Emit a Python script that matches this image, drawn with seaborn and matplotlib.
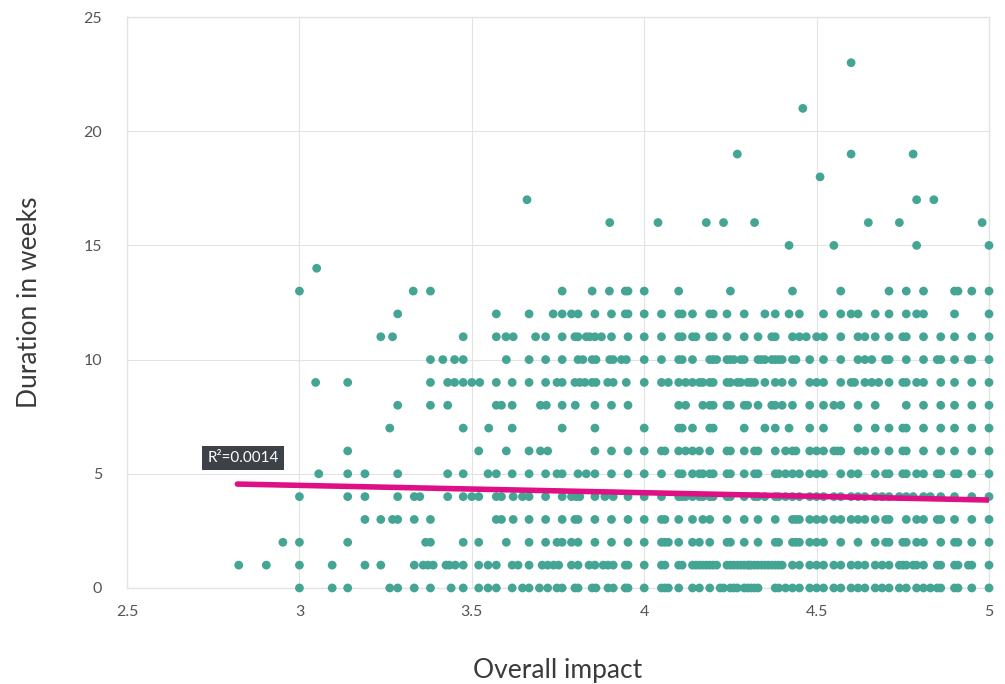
import numpy as np
import pandas as pd
import matplotlib
matplotlib.use("Agg")
import matplotlib.pyplot as plt
import seaborn as sns

# Overall impact values (x) for each duration in weeks (y)
impact_w0 = [3.0, 3.095, 3.14, 3.262, 3.285, 3.333, 3.38, 3.44, 3.475, 3.52,
             3.547, 3.571, 3.617, 3.647, 3.666, 3.696, 3.72, 3.747, 3.762, 3.799, 3.808,
             3.849, 3.86, 3.895, 3.91, 3.945, 3.953,
             4.00, 4.05, 4.06, 4.07, 4.10, 4.14, 4.16, 4.19, 4.22, 4.23, 4.25, 4.26, 4.27,
             4.29, 4.30, 4.31, 4.32, 4.33, 4.38, 4.39, 4.41, 4.43, 4.45, 4.48, 4.50,
             4.52, 4.55, 4.57, 4.60, 4.62, 4.64, 4.67, 4.69, 4.71, 4.74, 4.76, 4.79, 4.81,
             4.83, 4.85, 4.86, 4.90, 4.91, 4.95, 5.0]
impact_w1 = [2.824, 2.904, 3.0, 3.095, 3.19, 3.236, 3.333, 3.359, 3.373, 3.388, 3.425,
             3.435, 3.452, 3.475, 3.52,
             3.547, 3.571, 3.617, 3.634, 3.666, 3.704, 3.72, 3.737, 3.752, 3.789, 3.808,
             3.84, 3.857, 3.881, 3.895, 3.91, 3.945, 3.953,
             4.00, 4.05, 4.06, 4.10, 4.11, 4.14, 4.15, 4.16, 4.17, 4.18, 4.19, 4.20, 4.21,
             4.24, 4.25, 4.26, 4.27, 4.28, 4.29, 4.30, 4.304, 4.31, 4.32, 4.33, 4.34, 4.35,
             4.36, 4.37, 4.38, 4.39, 4.40, 4.43, 4.45, 4.48, 4.50,
             4.52, 4.55, 4.57, 4.60, 4.62, 4.64, 4.67, 4.69, 4.71, 4.74, 4.75, 4.76, 4.78,
             4.79, 4.81, 4.85, 4.86, 4.90, 4.91, 4.94, 4.95, 5.0]
impact_w2 = [2.952, 3.0, 3.14, 3.366, 3.38, 3.475, 3.52,
             3.6, 3.666, 3.714, 3.747, 3.762, 3.789, 3.808, 3.857, 3.905, 3.953,
             4.00, 4.05, 4.06, 4.07, 4.10, 4.14, 4.16, 4.19, 4.24, 4.25, 4.29, 4.33, 4.38,
             4.39, 4.43, 4.44, 4.45, 4.48, 4.50,
             4.52, 4.57, 4.62, 4.67, 4.70, 4.71, 4.75, 4.76, 4.79, 4.81, 4.86, 4.90, 4.91,
             4.95, 5.0]
impact_w3 = [3.19, 3.236, 3.27, 3.285, 3.333, 3.38,
             3.571, 3.586, 3.62, 3.666, 3.714, 3.762, 3.799, 3.808, 3.857, 3.905, 3.953,
             4.00, 4.05, 4.06, 4.10, 4.14, 4.17, 4.19, 4.24, 4.29, 4.33, 4.38, 4.43, 4.44,
             4.45, 4.48, 4.50,
             4.52, 4.55, 4.57, 4.60, 4.62, 4.64, 4.67, 4.70, 4.71, 4.76, 4.79, 4.81, 4.85,
             4.86, 4.90, 4.95, 5.0]
impact_w4 = [3.0, 3.14, 3.19, 3.285, 3.333, 3.349, 3.43, 3.475, 3.5, 3.52,
             3.571, 3.586, 3.62, 3.647, 3.666, 3.714, 3.762, 3.789, 3.803, 3.813, 3.857,
             3.886, 3.91, 3.953,
             4.00, 4.05, 4.10, 4.11, 4.12, 4.14, 4.16, 4.17, 4.19, 4.20, 4.24, 4.25, 4.29,
             4.32, 4.33, 4.35, 4.38, 4.39, 4.41, 4.43, 4.45, 4.48, 4.50,
             4.52, 4.55, 4.57, 4.60, 4.62, 4.64, 4.67, 4.69, 4.71, 4.74, 4.76, 4.78, 4.81,
             4.83, 4.86, 4.90, 4.95, 5.0]
impact_w5 = [3.056, 3.14, 3.19, 3.285, 3.43, 3.475,
             3.547, 3.571, 3.617, 3.666, 3.714, 3.747, 3.762, 3.808, 3.832, 3.857, 3.905,
             3.953,
             4.00, 4.05, 4.10, 4.11, 4.14, 4.16, 4.17, 4.19, 4.20, 4.24, 4.25, 4.29, 4.32,
             4.33, 4.38, 4.39, 4.41, 4.43, 4.45, 4.48, 4.50,
             4.52, 4.57, 4.60, 4.62, 4.67, 4.70, 4.71, 4.75, 4.76, 4.79, 4.81, 4.85, 4.86,
             4.90, 4.91, 4.95, 5.0]
impact_w6 = [3.14, 3.52,
             3.6, 3.666, 3.699, 3.72, 3.857, 3.905, 3.953,
             4.00, 4.05, 4.06, 4.10, 4.12, 4.14, 4.16, 4.19, 4.24, 4.25, 4.29, 4.32, 4.33,
             4.38, 4.41, 4.43, 4.44, 4.48, 4.50,
             4.52, 4.55, 4.56, 4.57, 4.62, 4.64, 4.67, 4.71, 4.75, 4.76, 4.81, 4.86, 4.90,
             4.95, 5.0]
impact_w7 = [3.262, 3.475,
             3.549, 3.617, 3.762, 3.857,
             4.00, 4.10, 4.11, 4.14, 4.19, 4.20, 4.29, 4.35, 4.38, 4.42, 4.48,
             4.52, 4.62, 4.67, 4.71, 4.75, 4.76, 4.81, 4.86, 4.90, 4.95, 5.0]
impact_w8 = [3.285, 3.38, 3.43,
             3.571, 3.586, 3.617, 3.699, 3.716, 3.762, 3.8, 3.857, 3.905, 3.953,
             4.10, 4.12, 4.17, 4.19, 4.20, 4.24, 4.25, 4.29, 4.30, 4.33, 4.37, 4.38, 4.40,
             4.43, 4.48,
             4.52, 4.55, 4.57, 4.62, 4.67, 4.76, 4.81, 4.86, 4.90, 4.95, 5.0]
impact_w9 = [3.047, 3.14, 3.38, 3.43, 3.45, 3.475, 3.5,
             3.523, 3.571, 3.617, 3.666, 3.714, 3.747, 3.762, 3.799, 3.813, 3.828, 3.849,
             3.86, 3.894, 3.91, 3.948,
             4.00, 4.05, 4.07, 4.10, 4.12, 4.14, 4.16, 4.17, 4.19, 4.20, 4.24, 4.25, 4.27,
             4.28, 4.30, 4.31, 4.32, 4.35, 4.38, 4.40, 4.43, 4.48, 4.50,
             4.52, 4.57, 4.60, 4.61, 4.64, 4.66, 4.68, 4.71, 4.75, 4.76, 4.79, 4.81, 4.86,
             4.90, 4.95, 5.0]
impact_w10 = [3.38, 3.416, 3.45, 3.475,
              3.6, 3.666, 3.714, 3.762, 3.808, 3.822, 3.849, 3.86, 3.9, 3.91, 3.934, 3.948,
              4.00, 4.05, 4.10, 4.11, 4.14, 4.19, 4.20, 4.21, 4.24, 4.25, 4.26, 4.28, 4.29,
              4.33, 4.34, 4.35, 4.37, 4.38, 4.39, 4.40, 4.43, 4.44, 4.48,
              4.52, 4.57, 4.62, 4.64, 4.66, 4.70, 4.71, 4.76, 4.81, 4.85, 4.86, 4.90, 4.94,
              4.95, 5.0]
impact_w11 = [3.236, 3.27, 3.475,
              3.571, 3.599, 3.62, 3.685, 3.714, 3.762, 3.799, 3.808, 3.832, 3.842, 3.857,
              3.876, 3.905, 3.953,
              4.00, 4.05, 4.10, 4.11, 4.14, 4.15, 4.19, 4.20, 4.24, 4.29, 4.33, 4.37, 4.38,
              4.43, 4.45, 4.47, 4.50,
              4.52, 4.57, 4.62, 4.64, 4.67, 4.71, 4.75, 4.76, 4.81, 4.86, 4.90, 4.95, 5.0]
impact_w12 = [3.285,
              3.571, 3.666, 3.736, 3.762, 3.789, 3.808, 3.857, 3.905, 3.945, 3.953,
              4.00, 4.05, 4.10, 4.11, 4.14, 4.19, 4.20, 4.24, 4.29, 4.35, 4.38, 4.42, 4.45,
              4.52, 4.57, 4.60, 4.62, 4.67, 4.71, 4.76, 4.79, 4.81, 4.90, 5.0]
impact_w13 = [3.0, 3.33, 3.38, 3.762, 3.849, 3.899, 3.945, 3.953,
              4.00, 4.10, 4.25, 4.43, 4.57, 4.71, 4.76, 4.81, 4.90, 4.91, 4.95, 5.0]
impact_w14 = [3.05]
impact_w15 = [4.42, 4.55, 4.79, 5.0]
impact_w16 = [3.90, 4.04, 4.18, 4.23, 4.32, 4.65, 4.74, 4.98]
impact_w17 = [3.66, 4.79, 4.84]
impact_w18 = [4.51]
impact_w19 = [4.27, 4.60, 4.78]
impact_w21 = [4.46]
impact_w23 = [4.60]

# linear trend as drawn on the chart
trend_x = [2.82, 5.0]
trend_y = [4.55, 3.85]
r2_label = "R²=0.0014"

rows = {0: impact_w0, 1: impact_w1, 2: impact_w2, 3: impact_w3, 4: impact_w4,
        5: impact_w5, 6: impact_w6, 7: impact_w7, 8: impact_w8, 9: impact_w9,
        10: impact_w10, 11: impact_w11, 12: impact_w12, 13: impact_w13,
        14: impact_w14, 15: impact_w15, 16: impact_w16, 17: impact_w17,
        18: impact_w18, 19: impact_w19, 21: impact_w21, 23: impact_w23}

df = pd.DataFrame([(x, w) for w, xs in rows.items() for x in xs],
                  columns=["impact", "weeks"])
trend = pd.DataFrame({"impact": trend_x, "weeks": trend_y})

sns.set_style("whitegrid", {"grid.color": "#e3e3e3", "axes.edgecolor": "#e3e3e3"})
plt.rcParams["font.family"] = ["Lato", "DejaVu Sans"]

fig = plt.figure(figsize=(10.05, 6.84), dpi=100)
ax = fig.add_axes([0.1264, 0.1404, 0.8577, 0.8347])

sns.scatterplot(data=df, x="impact", y="weeks", ax=ax, color="#45a594",
                s=40, edgecolor="none", zorder=3, clip_on=False)
sns.lineplot(data=trend, x="impact", y="weeks", ax=ax, color="#df0f86",
             linewidth=4, zorder=4, solid_capstyle="round")

ax.set_xlim(2.5, 5)
ax.set_ylim(0, 25)
ax.set_xticks([2.5, 3, 3.5, 4, 4.5, 5])
ax.set_xticklabels(["2.5", "3", "3.5", "4", "4.5", "5"])
ax.set_yticks([0, 5, 10, 15, 20, 25])
ax.tick_params(axis="both", labelsize=11.5, colors="#555555", length=0, pad=12)
ax.tick_params(axis="y", pad=18)
for sp in ax.spines.values():
    sp.set_color("#e3e3e3")
    sp.set_linewidth(1)

ax.set_xlabel("Overall impact", fontsize=19, color="#3a3a3a", labelpad=28)
ax.set_ylabel("Duration in weeks", fontsize=19, color="#3a3a3a", labelpad=30)

ax.text(2.836, 5.69, r2_label, ha="center", va="center", fontsize=11,
        color="white", zorder=5,
        bbox=dict(boxstyle="square,pad=0.35", facecolor="#3d4148", edgecolor="none"))

fig.savefig("out.png", dpi=100)
